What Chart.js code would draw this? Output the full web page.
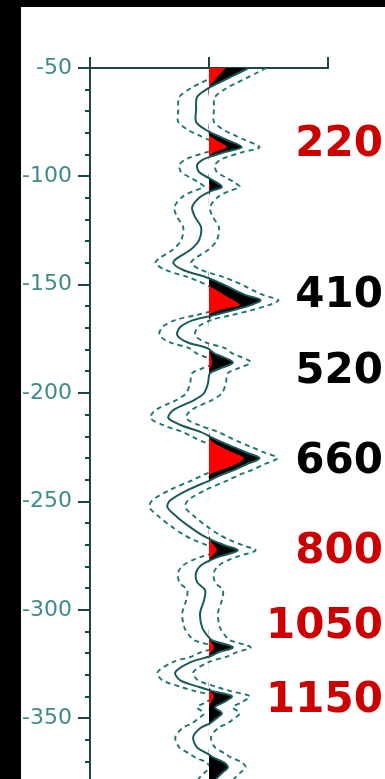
<!DOCTYPE html>
<html>
<head>
<meta charset="utf-8">
<script src="https://cdn.jsdelivr.net/npm/chart.js@4/dist/chart.umd.min.js"></script>
<style>
  html, body { margin: 0; padding: 0; background: #000; width: 385px; height: 779px; overflow: hidden; }
  #sheet { position: absolute; left: 21px; top: 7px; right: 0; bottom: 0; background: #fff; }
  #plot { position: absolute; left: 0; top: 0; }
</style>
</head>
<body>
<div id="sheet"></div>
<canvas id="plot" width="385" height="779"></canvas>
<script>
// Depth of each trace sample (m, negative downwards)
const depth = [
  -50, -52.3, -54.6, -56.9, -59.2, -63.4, -69.4, -74.9, -78.6, -80.9,
  -83.2, -86.5, -88.8, -91.1, -92.5, -94.8, -98.0, -100.8, -102.6, -104.9,
  -106.8, -109.5, -114.2, -118.8, -123.4, -129.4, -134.0, -137.7, -140.0, -143.2,
  -146.5, -148.3, -150.6, -152.5, -154.8, -157.1, -159.4, -161.7, -164.0, -166.3,
  -169.5, -173.2, -176.5, -179.2, -181.5, -185.7, -188.5, -190.8, -195.4, -200.0,
  -203.2, -207.8, -211.5, -214.8, -218.0, -220.3, -222.6, -224.9, -227.2, -230.0,
  -232.8, -235.5, -237.8, -240.2, -244.8, -249.4, -252.6, -257.2, -261.8, -265.5,
  -267.8, -270.2, -272.5, -275.2, -277.1, -279.4, -282.6, -287.2, -290.9, -295.5,
  -301.5, -308.0, -311.7, -314.0, -317.2, -319.5, -321.4, -324.2, -328.8, -332.5,
  -335.7, -337.5, -339.8, -342.6, -344.9, -347.7, -350.5, -352.3, -354.6, -358.8,
  -363.4, -366.2, -368.0, -370.3, -372.6, -374.9, -378.0
];

// Wiggle amplitude at each depth
const amplitude = [
  40, 30, 20, 10, 0, -12, -13, -13, -3, 7,
  18, 33, 16, 0, -7, -12, -10, 0, 7, 13,
  2, -9, -17, -14, -8, -10, -19, -32, -36, -26,
  -3, 7, 18, 26, 37, 52, 42, 25, 5, -16,
  -29, -32, -22, -2, 5, 24, 12, 1, -1, -5,
  -15, -36, -41, -28, -8, 2, 13, 25, 37, 51,
  38, 25, 12, 1, -22, -39, -42, -32, -19, -7,
  3, 16, 29, 12, 1, -8, -13, -12, -4, -5,
  -9, -7, -2, 3, 24, 10, 1, -19, -34, -29,
  -9, 4, 23, 15, 6, 13, 6, 1, -9, -16,
  -12, -2, 4, 15, 19, 14, 7
];

// Strong-amplitude core shown in red inside the positive lobes
const coreAmplitude = [
  17, 12, 8, 3, 0, 0, 0, 0, 0, 0,
  7, 18, 6, 0, 0, 0, 0, 0, 0, 1,
  0, 0, 0, 0, 0, 0, 0, 0, 0, 0,
  0, 0, 1, 8, 16, 25, 31, 10, 0, 0,
  0, 0, 0, 0, 1, 3, 1, 0, 0, 0,
  0, 0, 0, 0, 0, 0, 4, 13, 23, 35,
  27, 12, 0, 0, 0, 0, 0, 0, 0, 0,
  1, 5, 8, 3, 0, 0, 0, 0, 0, 0,
  0, 0, 0, 1, 5, 2, 0, 0, 0, 0,
  0, 1, 5, 2, 0, 0, 0, 0, 0, 0,
  0, 0, 0, 0, 0, 0, 0
];

// Depth axis labels
const depthLabels = [-50, -100, -150, -200, -250, -300, -350];

// Annotations beside the reflectors
const markerText  = ['220', '410', '520', '660', '800', '1050', '1150'];
const markerDepth = [-83.7, -153.4, -188.5, -230.0, -271.5, -306.2, -340.3];
const markerColor = ['#cc0000', '#000000', '#000000', '#000000', '#cc0000', '#cc0000', '#cc0000'];

const lineInk  = '#1b5a5a';
const dashInk  = '#1f7474';
const axisInk  = '#1a4646';
const labelInk = '#3f8a8a';
const envelopeShift = 18;

const pts = values => depth.map((d, i) => ({ x: values[i], y: d }));

const markerPlugin = {
  id: 'depthMarkers',
  afterDraw(chart) {
    const { ctx } = chart;
    const y = chart.scales.y;
    ctx.save();
    ctx.font = 'bold 42px "DejaVu Sans"';
    ctx.textAlign = 'right';
    ctx.textBaseline = 'alphabetic';
    markerText.forEach((t, i) => {
      ctx.fillStyle = markerColor[i];
      ctx.fillText(t, chart.width - 2, y.getPixelForValue(markerDepth[i]) + 15);
    });
    ctx.restore();
  }
};

new Chart(document.getElementById('plot'), {
  type: 'line',
  data: {
    datasets: [
      { label: 'trace', data: pts(amplitude), borderColor: lineInk, borderWidth: 2, fill: false, order: 0 },
      { label: 'core', data: pts(coreAmplitude), borderWidth: 0, borderColor: 'rgba(0,0,0,0)',
        backgroundColor: '#ff0000', fill: 'origin', order: 1 },
      { label: 'lobe', data: pts(amplitude.map(v => Math.max(v, 0))), borderWidth: 0, borderColor: 'rgba(0,0,0,0)',
        backgroundColor: '#000000', fill: 'origin', order: 2 },
      { label: 'envelope right', data: pts(amplitude.map(v => v + envelopeShift)), borderColor: dashInk,
        borderWidth: 1.9, borderDash: [5, 4], fill: false, order: 3 },
      { label: 'envelope left', data: pts(amplitude.map(v => v - envelopeShift)), borderColor: dashInk,
        borderWidth: 1.9, borderDash: [5, 4], fill: false, order: 3 }
    ]
  },
  options: {
    indexAxis: 'y',
    responsive: false,
    animation: false,
    devicePixelRatio: 1,
    layout: { padding: { left: 22, top: 57, right: 57, bottom: 0 } },
    elements: { point: { radius: 0 }, line: { tension: 0.3 } },
    plugins: { legend: { display: false }, tooltip: { enabled: false } },
    scales: {
      x: {
        type: 'linear', position: 'top', min: -120, max: 120,
        ticks: { stepSize: 120, display: false },
        grid: { drawOnChartArea: false, tickLength: 11, color: axisInk, lineWidth: 2 },
        border: { color: axisInk, width: 2 }
      },
      y: {
        type: 'linear', position: 'left', min: -378, max: -50,
        ticks: {
          stepSize: 10, autoSkip: false, includeBounds: false, padding: 13,
          color: labelInk, font: { family: 'DejaVu Sans', size: 22 },
          callback: v => depthLabels.includes(v) ? String(v) : ''
        },
        grid: { drawOnChartArea: false, tickLength: 5, color: axisInk, lineWidth: 2 },
        border: { color: axisInk, width: 2 },
        afterFit: s => { s.width = 68; s.paddingTop = 0; s.paddingBottom = 0; }
      },
      yMajor: {
        type: 'linear', axis: 'y', position: { x: -120 }, min: -378, max: -50,
        ticks: { stepSize: 50, display: false, autoSkip: false, includeBounds: false },
        grid: { drawOnChartArea: false, tickLength: 12, color: axisInk, lineWidth: 2 },
        border: { display: false }
      }
    }
  },
  plugins: [markerPlugin]
});
</script>
</body>
</html>
